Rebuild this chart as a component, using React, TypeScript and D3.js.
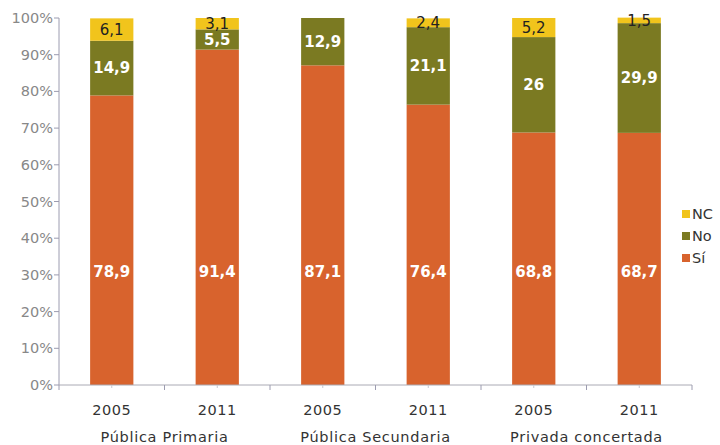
import React from "react";
import * as d3 from "d3";

const groups = ["Pública Primaria", "Pública Secundaria", "Privada concertada"];
const years = ["2005", "2011", "2005", "2011", "2005", "2011"];
const si = [78.9, 91.4, 87.1, 76.4, 68.8, 68.7];
const no = [14.9, 5.5, 12.9, 21.1, 26, 29.9];
const nc = [6.1, 3.1, 0, 2.4, 5.2, 1.5];
const seriesNames = ["NC", "No", "Sí"];
const yTicks = [0, 10, 20, 30, 40, 50, 60, 70, 80, 90, 100];
const siLabelLevel = 31;

const colors: Record<string, string> = { "Sí": "#D8632D", No: "#7B7A22", NC: "#F1C41C" };
const FONT = "Verdana, 'DejaVu Sans', sans-serif";

export default function App() {
  const W = 720, H = 445;
  const left = 59, right = 692, top = 18, bottom = 385;
  const idx = years.map((_, i) => i);
  const x = d3.scaleBand<number>().domain(idx).range([left, right]).paddingInner(0.59).paddingOuter(0.295);
  const y = d3.scaleLinear().domain([0, 100]).range([bottom, top]);
  const step = x.step();
  const rows = idx.map(i => ({ i, "Sí": si[i], No: no[i], NC: nc[i] }));
  const stack = d3.stack<any>().keys(["Sí", "No", "NC"])(rows);
  const fmt = (v: number) => String(v).replace(".", ",");

  return (
    <svg width={W} height={H} style={{ position: "absolute", left: 0, top: 0, background: "#fff" }} fontFamily={FONT}>
      {stack.map(layer => (
        <g key={layer.key}>
          {layer.map((d, j) => (
            d[1] - d[0] > 0 ? (
              <rect key={j} x={x(j)} width={x.bandwidth()} y={y(d[1])} height={y(d[0]) - y(d[1])} fill={colors[layer.key]} />
            ) : null
          ))}
        </g>
      ))}
      {stack.map(layer => (
        <g key={"l" + layer.key}>
          {layer.map((d, j) => {
            const v = d[1] - d[0];
            if (v <= 0) return null;
            const cx = (x(j) as number) + x.bandwidth() / 2;
            const cy = layer.key === "Sí" ? y(siLabelLevel) : y((d[0] + d[1]) / 2);
            const isNC = layer.key === "NC";
            return (
              <text key={j} x={cx} y={cy} dy="0.36em" textAnchor="middle" fontSize={15}
                fontWeight={isNC ? "normal" : "bold"} fill={isNC ? "#222" : "#fff"}>{fmt(Math.round(v * 10) / 10)}</text>
            );
          })}
        </g>
      ))}
      <line x1={left} x2={left} y1={top} y2={bottom} stroke="#9C9CB0" />
      {yTicks.map(t => (
        <g key={t}>
          <line x1={left - 5} x2={left} y1={y(t)} y2={y(t)} stroke="#9C9CB0" />
          <text x={left - 6} y={y(t)} dy="0.35em" textAnchor="end" fontSize={14.5} fill="#888">{t}%</text>
        </g>
      ))}
      <line x1={left} x2={right} y1={bottom} y2={bottom} stroke="#AAAAB4" />
      {d3.range(idx.length + 1).map(k => (
        <line key={"t" + k} x1={left + k * step} x2={left + k * step} y1={bottom} y2={bottom + 5} stroke="#9C9CB0" />
      ))}
      {idx.map(i => (
        <line key={"m" + i} x1={(x(i) as number) + x.bandwidth() / 2} x2={(x(i) as number) + x.bandwidth() / 2} y1={bottom} y2={bottom + 3} stroke="#C8C8D0" />
      ))}
      {idx.map(i => (
        <text key={"y" + i} x={(x(i) as number) + x.bandwidth() / 2} y={410} dy="0.35em" textAnchor="middle" fontSize={14.5} letterSpacing={0.5} fill="#333">{years[i]}</text>
      ))}
      {groups.map((g, k) => (
        <text key={g} x={left + (k * 2 + 1) * step} y={437} dy="0.35em" textAnchor="middle" fontSize={14.5} letterSpacing={0.7} fill="#333">{g}</text>
      ))}
      {seriesNames.map((s, k) => (
        <g key={s} transform={`translate(682, ${210 + k * 22})`}>
          <rect x={0} y={0} width={8} height={8} fill={colors[s]} />
          <text x={10} y={4} dy="0.36em" fontSize={14.5} fill="#333">{s}</text>
        </g>
      ))}
    </svg>
  );
}
